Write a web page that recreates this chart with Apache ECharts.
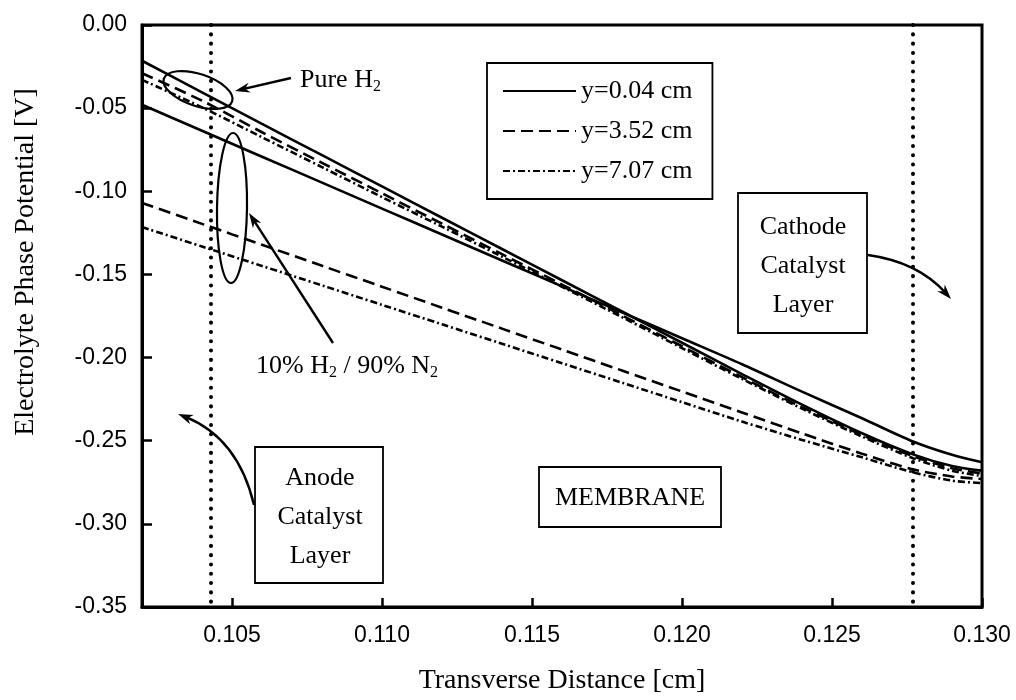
<!DOCTYPE html>
<html>
<head>
<meta charset="utf-8">
<script src="https://cdn.jsdelivr.net/npm/echarts@6/dist/echarts.min.js"></script>
<style>
  html, body { margin: 0; padding: 0; background: #fff; }
  #chart { width: 1016px; height: 700px; }
</style>
</head>
<body>
<div id="chart"></div>
<script>
// Transverse positions through the anode catalyst layer, membrane and cathode catalyst layer [cm]
const xs = [0.102, 0.104, 0.106, 0.108, 0.110, 0.112, 0.114, 0.116, 0.118, 0.120, 0.122, 0.124, 0.126, 0.1277, 0.129, 0.130];

// Electrolyte phase potential [V], pure H2 feed
const pureY004 = [-0.0215, -0.0405, -0.0595, -0.0783, -0.0971, -0.1159, -0.1347, -0.1535, -0.1723, -0.1911, -0.2099, -0.2283, -0.2455, -0.2582, -0.2652, -0.2680];
const pureY352 = [-0.0290, -0.0455, -0.0645, -0.0829, -0.1012, -0.1195, -0.1378, -0.1561, -0.1746, -0.1932, -0.2118, -0.2298, -0.2465, -0.2593, -0.2665, -0.2697];
const pureY707 = [-0.0330, -0.0495, -0.0675, -0.0855, -0.1035, -0.1213, -0.1393, -0.1574, -0.1757, -0.1943, -0.2128, -0.2307, -0.2475, -0.2605, -0.2680, -0.2712];

// Electrolyte phase potential [V], 10% H2 / 90% N2 feed
const diluteY004 = [-0.0480, -0.0636, -0.0792, -0.0948, -0.1104, -0.1260, -0.1416, -0.1572, -0.1728, -0.1884, -0.2040, -0.2205, -0.2365, -0.2505, -0.2585, -0.2630];
const diluteY352 = [-0.1070, -0.1196, -0.1322, -0.1448, -0.1574, -0.1700, -0.1826, -0.1952, -0.2078, -0.2204, -0.2330, -0.2456, -0.2578, -0.2672, -0.2715, -0.2730];
const diluteY707 = [-0.1215, -0.1332, -0.1449, -0.1566, -0.1683, -0.1800, -0.1917, -0.2034, -0.2151, -0.2268, -0.2385, -0.2495, -0.2600, -0.2690, -0.2740, -0.2755];

// Catalyst layer / membrane interfaces [cm]
const interfaces = [0.1043, 0.1277];

// Axis ticks
const xTicks = [0.105, 0.110, 0.115, 0.120, 0.125, 0.130];
const legendNames = ['y=0.04 cm', 'y=3.52 cm', 'y=7.07 cm'];

const Y_MIN = -0.35, Y_MAX = 0;

const SERIF = "'Liberation Serif', 'Times New Roman', serif";
const SANS = "'Liberation Sans', Arial, sans-serif";

const solid = { type: 'solid', width: 2.6, color: '#000' };
const dashed = { type: [12, 6], width: 2.6, color: '#000' };
const dashDot = { type: [7, 3, 2, 3], width: 2.6, color: '#000' };

function pairs(vals) { return xs.map((x, i) => [x, vals[i]]); }

function lineSeries(name, vals, style) {
  return {
    type: 'line', name: name, data: pairs(vals), showSymbol: false, symbol: 'none',
    smooth: 0.3, lineStyle: style, color: '#000', silent: true, z: 3
  };
}

const chart = echarts.init(document.getElementById('chart'), null, { renderer: 'canvas' });

// dotted vertical lines at the catalyst layer interfaces
const interfaceSeries = interfaces.map((x, i) => ({
  type: 'line', name: 'interface' + i, data: [[x, Y_MAX], [x, Y_MIN]],
  showSymbol: false, symbol: 'none', silent: true, z: 2, color: '#000',
  lineStyle: { type: [0.1, 9.2], width: 4, cap: 'round', color: '#000' }
}));

const series = [
  lineSeries(legendNames[0], pureY004, solid),
  lineSeries(legendNames[1], pureY352, dashed),
  lineSeries(legendNames[2], pureY707, dashDot),
  lineSeries(legendNames[0], diluteY004, solid),
  lineSeries(legendNames[1], diluteY352, dashed),
  lineSeries(legendNames[2], diluteY707, dashDot)
].concat(interfaceSeries);

// Callout helpers (pixel space)
function head(x, y, ang, len, half) {
  len = len || 15; half = half || 5;
  const c = Math.cos(ang), s = Math.sin(ang);
  return {
    type: 'polygon', z: 10,
    shape: { points: [[x, y], [x - len * c + half * s, y - len * s - half * c], [x - len * 0.7 * c, y - len * 0.7 * s], [x - len * c - half * s, y - len * s + half * c]] },
    style: { fill: '#000' }
  };
}
function straightArrow(x1, y1, x2, y2) {
  const ang = Math.atan2(y2 - y1, x2 - x1);
  return [
    { type: 'line', z: 10, shape: { x1: x1, y1: y1, x2: x2 - 8 * Math.cos(ang), y2: y2 - 8 * Math.sin(ang) }, style: { stroke: '#000', lineWidth: 2.4 } },
    head(x2, y2, ang)
  ];
}
function curvedArrow(x1, y1, cx, cy, x2, y2) {
  const ang = Math.atan2(y2 - cy, x2 - cx);
  return [
    { type: 'bezierCurve', z: 10, shape: { x1: x1, y1: y1, cpx1: cx, cpy1: cy, x2: x2 - 8 * Math.cos(ang), y2: y2 - 8 * Math.sin(ang) }, style: { stroke: '#000', lineWidth: 2.4, fill: null } },
    head(x2, y2, ang)
  ];
}
function box(x, y, w, h) {
  return { type: 'rect', z: 8, shape: { x: x, y: y, width: w, height: h }, style: { fill: '#fff', stroke: '#000', lineWidth: 1.8 } };
}
function multiText(cx, cy, lines) {
  return {
    type: 'text', z: 11, x: cx, y: cy,
    style: { text: lines.join('\n'), font: '26px ' + SERIF, fill: '#000', align: 'center', verticalAlign: 'middle', lineHeight: 39 }
  };
}
const subRich = {
  a: { fontFamily: SERIF, fontSize: 26, lineHeight: 30, verticalAlign: 'middle', color: '#000' },
  s: { fontFamily: SERIF, fontSize: 16, lineHeight: 12, verticalAlign: 'bottom', color: '#000' }
};

const graphics = [].concat(
  // Pure H2 callout
  [{ type: 'ellipse', z: 10, x: 198, y: 90, rotation: -0.32, shape: { cx: 0, cy: 0, rx: 36, ry: 16 }, style: { fill: null, stroke: '#000', lineWidth: 2.2 } }],
  straightArrow(291, 78, 235, 91),
  [{ type: 'text', z: 11, x: 300, y: 80, style: { text: '{a|Pure H}{s|2}', rich: subRich, verticalAlign: 'middle' } }],
  // 10% H2 / 90% N2 callout
  [{ type: 'ellipse', z: 10, x: 232, y: 208, rotation: -0.015, shape: { cx: 0, cy: 0, rx: 15, ry: 75 }, style: { fill: null, stroke: '#000', lineWidth: 2.2 } }],
  straightArrow(333, 343, 249, 213),
  [{ type: 'text', z: 11, x: 256, y: 366, style: { text: '{a|10% H}{s|2}{a| / 90% N}{s|2}', rich: subRich, verticalAlign: 'middle' } }],
  // Cathode catalyst layer
  [box(738, 193, 129, 140), multiText(803, 266, ['Cathode', 'Catalyst', 'Layer'])],
  curvedArrow(868, 255, 918, 262, 951, 299),
  // Anode catalyst layer
  [box(255, 447, 128, 136), multiText(320, 517, ['Anode', 'Catalyst', 'Layer'])],
  curvedArrow(254, 505, 238, 438, 178, 414),
  // Membrane label
  [box(539, 467, 182, 60), multiText(630, 498, ['MEMBRANE'])]
);

chart.setOption({
  animation: false,
  backgroundColor: '#fff',
  grid: { left: 142, right: 34, top: 25, bottom: 93, show: true, borderColor: '#000', borderWidth: 3, backgroundColor: 'transparent' },
  legend: {
    data: legendNames, orient: 'vertical', left: 487, top: 63,
    padding: [14, 20, 14, 15], itemGap: 12, itemWidth: 73, itemHeight: 4,
    borderColor: '#000', borderWidth: 1.8, backgroundColor: '#fff',
    selectedMode: false,
    itemStyle: { opacity: 0, borderWidth: 0 },
    textStyle: { fontFamily: SERIF, fontSize: 26, lineHeight: 28, color: '#000' }
  },
  xAxis: {
    type: 'value', min: 0.102, max: 0.130,
    name: 'Transverse Distance [cm]', nameLocation: 'middle', nameGap: 60,
    nameTextStyle: { fontFamily: SERIF, fontSize: 28, color: '#000' },
    axisLine: { show: true, onZero: false, lineStyle: { color: '#000', width: 3 } },
    axisTick: { show: true, inside: true, length: 9, lineStyle: { color: '#000', width: 2.5 }, customValues: xTicks },
    axisLabel: { customValues: xTicks, formatter: v => v.toFixed(3), margin: 17, fontFamily: SANS, fontSize: 23, color: '#000' },
    splitLine: { show: false }
  },
  yAxis: {
    type: 'value', min: Y_MIN, max: Y_MAX, interval: 0.05,
    name: 'Electrolyte Phase Potential [V]', nameLocation: 'middle', nameGap: 102, nameRotate: 90,
    nameTextStyle: { fontFamily: SERIF, fontSize: 28, color: '#000', padding: [0, 0, 0, 108] },
    axisLine: { show: true, onZero: false, lineStyle: { color: '#000', width: 3 } },
    axisTick: { show: true, inside: true, length: 10, lineStyle: { color: '#000', width: 2.5 } },
    axisLabel: { formatter: v => v.toFixed(2), margin: 15, fontFamily: SANS, fontSize: 23, color: '#000' },
    splitLine: { show: false }
  },
  series: series,
  graphic: { elements: graphics }
});
</script>
</body>
</html>
